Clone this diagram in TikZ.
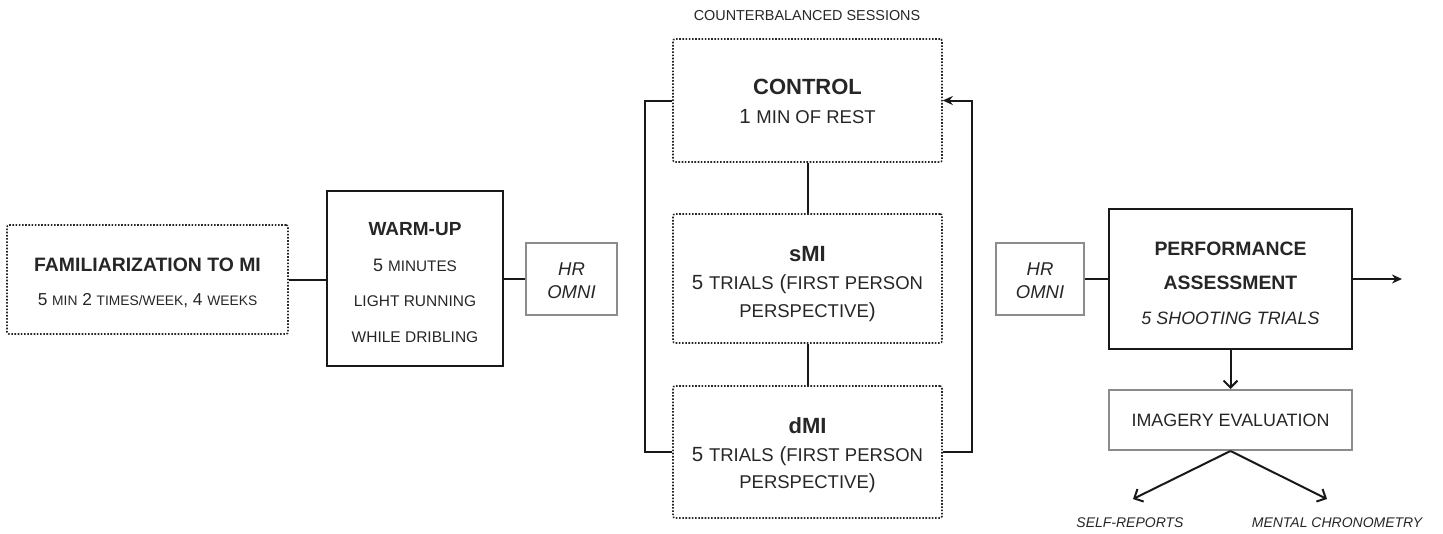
\documentclass[tikz,border=0pt]{standalone}
\usepackage{fontspec}
\setmainfont{Liberation Sans}
\usetikzlibrary{arrows.meta}
\newcommand\fs[2]{\fontsize{#1}{#2}\selectfont}
\newcommand\sm[2]{{\fontsize{#1}{#1}\selectfont #2}}
\newcommand\bt[2]{{\fontsize{#1}{#1}\selectfont\bfseries #2}}
\newcommand\up[1]{\rule{0pt}{#1pt}}
\begin{document}
\begin{tikzpicture}[x=1pt,y=-1pt,
  txt/.style={text=black!85, inner sep=0pt, align=center},
  solidbox/.style={draw=black!90, line width=2pt, txt},
  dotbox/.style={draw=black!85, line width=1.6pt, dash pattern=on 1.6pt off 1.6pt, rounded corners=2pt, txt},
  graybox/.style={draw=black!45, line width=2pt, txt},
  conn/.style={draw=black!90, line width=2pt},
  filltip/.style={-{Stealth[length=10pt,width=9pt]}},
  opentip/.style={-{Straight Barb[length=7pt,width=14pt]}},
  ]
\useasboundingbox (0,0) rectangle (1443,533);

\node[dotbox, minimum width=281pt, minimum height=109pt, font=\fs{17.3}{34}] (fam) at (147.5,279.5)
  {\up{21}\bt{19.4}{FAMILIARIZATION TO MI}\\ 5 \sm{13.8}{MIN} 2 \sm{13.8}{TIMES/WEEK}, 4 \sm{13.8}{WEEKS}};

\node[solidbox, minimum width=176pt, minimum height=175pt, font=\fs{18}{35.5}] (warm) at (415,278.5)
  {\up{21}\bt{19}{WARM-UP}\\ 5 \sm{15.3}{MINUTES}\\ \sm{15.5}{LIGHT RUNNING}\\ \sm{15.5}{WHILE DRIBLING}};

\node[graybox, minimum width=91pt, minimum height=72pt, font=\fs{18.5}{23}\itshape] (hr1) at (571.5,279)
  {\up{16.5}HR\\ OMNI};

\node[txt, font=\fs{14.4}{16}] (cb) at (807,16) {COUNTERBALANCED SESSIONS};

\node[dotbox, minimum width=269pt, minimum height=123pt, font=\fs{20.5}{29}] (ctrl) at (807.5,100.5)
  {\up{18}\bt{22}{CONTROL}\\ 1 \sm{18.5}{MIN OF REST}};

\node[dotbox, minimum width=269pt, minimum height=129pt, font=\fs{20.5}{28}] (smi) at (807.5,278.5)
  {\up{26}\bt{22}{sMI}\\ 5 \sm{18.5}{TRIALS} (\sm{18.5}{FIRST PERSON}\\ \sm{18.5}{PERSPECTIVE})};

\node[dotbox, minimum width=269pt, minimum height=132pt, font=\fs{20.5}{27.5}] (dmi) at (807.5,452)
  {\up{23}\bt{22}{dMI}\\ 5 \sm{18.5}{TRIALS} (\sm{18.5}{FIRST PERSON}\\ \sm{18.5}{PERSPECTIVE})};

\node[graybox, minimum width=88pt, minimum height=72pt, font=\fs{18.5}{23}\itshape] (hr2) at (1040,279)
  {\up{16.5}HR\\ OMNI};

\node[solidbox, minimum width=243pt, minimum height=140pt, font=\fs{17.9}{34.5}] (perf) at (1230.5,279)
  {\up{22}\bt{19.4}{PERFORMANCE}\\ \bt{19.4}{ASSESSMENT}\\ \textit{5 SHOOTING TRIALS}};

\node[graybox, minimum width=243pt, minimum height=60pt, font=\fs{17.9}{20}] (img) at (1230.5,420)
  {IMAGERY EVALUATION};

\node[txt, font=\fs{14}{16}\itshape] (sr) at (1130,523) {SELF-REPORTS};
\node[txt, font=\fs{14}{16}\itshape] (mc) at (1337,523) {MENTAL CHRONOMETRY};

\coordinate (out) at (1402,279);
\coordinate (srend) at (1133,499);
\coordinate (mcend) at (1327,499);

\draw[conn] (fam.east) -- (fam.east -| warm.west);
\draw[conn] (warm.east) -- (warm.east -| hr1.west);
\draw[conn] (ctrl.west) -- ++(-27,0) |- (dmi.west);
\draw[conn, filltip] (dmi.east) -- ++(29,0) |- (ctrl.east);
\draw[conn] (ctrl.south) -- (smi.north);
\draw[conn] (smi.south) -- (dmi.north);
\draw[conn] (hr2.east) -- (hr2.east -| perf.west);
\draw[conn, filltip] (perf.east) -- (out);
\draw[conn, opentip] (perf.south) -- (img.north);
\draw[conn, opentip] (img.south) -- (srend);
\draw[conn, opentip] (img.south) -- (mcend);
\end{tikzpicture}
\end{document}
